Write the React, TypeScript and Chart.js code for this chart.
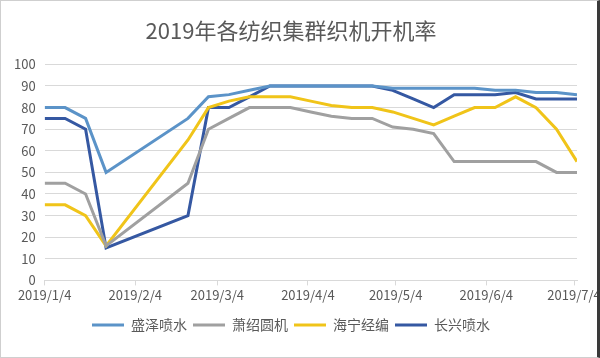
import React, { useEffect, useRef } from "react";
import { Chart, registerables } from "chart.js";

Chart.register(...registerables);

const title = "2019年各纺织集群织机开机率";

const dates = [
  "2019/1/4", "2019/1/11", "2019/1/18", "2019/1/25", "2019/2/22", "2019/3/1",
  "2019/3/8", "2019/3/15", "2019/3/22", "2019/3/29", "2019/4/5", "2019/4/12",
  "2019/4/19", "2019/4/26", "2019/5/3", "2019/5/10", "2019/5/17", "2019/5/24",
  "2019/5/31", "2019/6/7", "2019/6/14", "2019/6/21", "2019/6/28", "2019/7/5",
];

const tickLabels = ["2019/1/4", "2019/2/4", "2019/3/4", "2019/4/4", "2019/5/4", "2019/6/4", "2019/7/4"];

const seriesNames = ["盛泽喷水", "萧绍圆机", "海宁经编", "长兴喷水"];

const shengze = [80, 80, 75, 50, 75, 85, 86, 88, 90, 90, 90, 90, 90, 90, 89, 89, 89, 89, 89, 88, 88, 87, 87, 86];
const xiaoshao = [45, 45, 40, 16, 45, 70, 75, 80, 80, 80, 78, 76, 75, 75, 71, 70, 68, 55, 55, 55, 55, 55, 50, 50];
const haining = [35, 35, 30, 16, 65, 80, 83, 85, 85, 85, 83, 81, 80, 80, 78, 75, 72, 76, 80, 80, 85, 80, 70, 55];
const changxing = [75, 75, 70, 15, 30, 80, 80, 85, 90, 90, 90, 90, 90, 90, 88, 84, 80, 86, 86, 86, 87, 84, 84, 84];

const colors = ["#5b93c8", "#a0a0a0", "#f0c419", "#3558a2"];

const FONT = "'Noto Sans CJK SC', 'Liberation Sans', sans-serif";

function dayOf(s: string): number {
  const [y, m, d] = s.split("/").map(Number);
  return Math.round((Date.UTC(y, m - 1, d) - Date.UTC(2019, 0, 4)) / 86400000);
}

export default function App() {
  const ref = useRef<HTMLCanvasElement | null>(null);

  useEffect(() => {
    document.body.style.margin = "0";
    if (!ref.current) return;
    const values = [shengze, xiaoshao, haining, changxing];
    const tickDays = tickLabels.map(dayOf);
    const chart = new Chart(ref.current, {
      type: "line",
      data: {
        datasets: seriesNames.map((name, i) => ({
          label: name,
          data: dates.map((d, j) => ({ x: dayOf(d), y: values[i][j] })),
          borderColor: colors[i],
          backgroundColor: colors[i],
          borderWidth: 3,
          pointRadius: 0,
          tension: 0,
        })),
      },
      options: {
        animation: false,
        responsive: true,
        maintainAspectRatio: false,
        layout: { padding: { left: 4, right: 20, top: 0, bottom: 15 } },
        plugins: {
          title: {
            display: true,
            text: title,
            color: "#595959",
            font: { size: 22, family: FONT, weight: "normal" },
            padding: { top: 16, bottom: 21 },
          },
          legend: {
            position: "bottom",
            labels: {
              usePointStyle: true,
              pointStyle: "line",
              pointStyleWidth: 32,
              color: "#595959",
              font: { size: 14, family: FONT },
              padding: 6,
            },
          },
          tooltip: { enabled: false },
        },
        scales: {
          x: {
            type: "linear",
            min: 0,
            max: dayOf("2019/7/5"),
            afterBuildTicks: (scale: any) => {
              scale.ticks = tickDays.map((v) => ({ value: v }));
            },
            afterFit: (scale: any) => {
              scale.paddingRight = 0;
              scale.height += 7;
            },
            ticks: {
              autoSkip: false,
              maxRotation: 0,
              color: "#595959",
              font: { size: 13, family: FONT },
              padding: 2,
              callback: (v: any) => {
                const idx = tickDays.indexOf(Number(v));
                return idx >= 0 ? tickLabels[idx] : "";
              },
            },
            grid: { display: true, drawOnChartArea: false, color: "#d9d9d9", tickLength: 5 },
            border: { display: true, color: "#d9d9d9" },
          },
          y: {
            min: 0,
            max: 100,
            ticks: {
              stepSize: 10,
              color: "#595959",
              font: { size: 13, family: FONT },
              padding: 9,
            },
            grid: { color: "#d9d9d9", drawTicks: false },
            border: { display: false },
          },
        },
      },
    });
    return () => chart.destroy();
  }, []);

  return (
    <div
      style={{
        width: 600,
        height: 358,
        position: "relative",
        boxSizing: "border-box",
        border: "1px solid #cfcfcf",
        borderRight: "3px solid #3a3a3a",
        background: "#ffffff",
      }}
    >
      <canvas ref={ref} />
    </div>
  );
}
